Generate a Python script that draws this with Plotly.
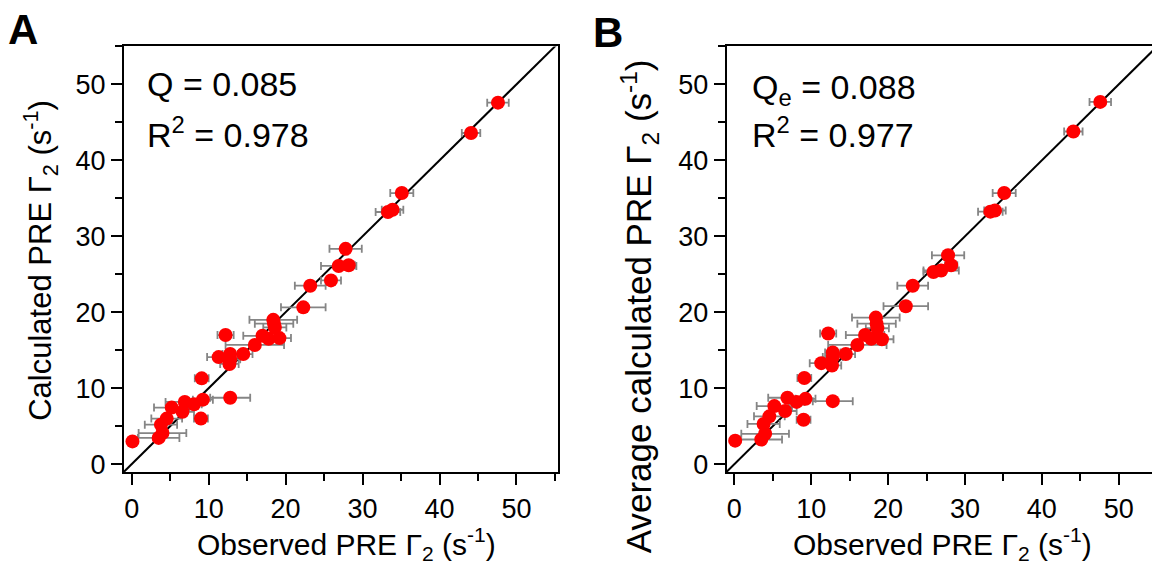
import plotly.graph_objects as go

# Observed PRE Gamma2 (s^-1) and its uncertainty
observed = [0.1, 3.5, 4.0, 3.8, 4.55, 5.2, 6.6, 6.9, 8.1, 9.25, 9.0, 12.8, 9.1, 11.3,
            12.7, 12.8, 12.8, 14.5, 12.2, 16.0, 17.0, 17.8, 18.4, 18.5, 18.6, 19.2,
            22.3, 23.2, 25.9, 26.9, 28.2, 27.8, 33.3, 33.9, 35.1, 44.1, 47.6]
observed_err = [0.5, 2.7, 3.1, 2.1, 2.0, 2.3, 1.5, 2.5, 1.0, 1.3, 0.9, 2.6, 0.9, 1.5,
                1.2, 1.3, 1.0, 1.2, 1.05, 3.8, 2.5, 1.5, 3.1, 2.5, 1.5, 1.5,
                2.9, 2.0, 1.3, 2.3, 0.8, 2.1, 1.6, 1.4, 1.5, 1.2, 1.4]
calc_A = [3.0, 3.46, 4.1, 5.2, 6.0, 7.45, 6.9, 8.2, 7.9, 8.5, 6.0, 8.75, 11.3, 14.1,
          13.2, 13.8, 14.5, 14.5, 17.0, 15.7, 16.9, 16.5, 19.0, 18.5, 18.0, 16.6,
          20.65, 23.5, 24.2, 26.1, 26.2, 28.35, 33.2, 33.5, 35.7, 43.6, 47.6]
calc_B = [3.1, 3.25, 4.0, 5.3, 6.3, 7.65, 7.0, 8.75, 8.2, 8.6, 5.85, 8.3, 11.35, 13.3,
          13.0, 14.1, 14.7, 14.5, 17.2, 15.7, 17.0, 16.5, 19.3, 18.5, 17.9, 16.45,
          20.8, 23.5, 25.3, 25.5, 26.2, 27.5, 33.25, 33.4, 35.7, 43.8, 47.7]
diag = [-1, 56]
tick_vals = [0, 10, 20, 30, 40, 50]
tick_text = ["0", "10", "20", "30", "40", "50"]

W, H = 1152, 573
FONT = "Liberation Sans, Arial, Helvetica, sans-serif"

def px(x):
    return x / W

def py(y):
    return 1 - y / H

fig = go.Figure()
for xa, ya, calc in (("x", "y", calc_A), ("x2", "y2", calc_B)):
    fig.add_trace(go.Scatter(x=diag, y=diag, mode="lines", xaxis=xa, yaxis=ya,
                             line=dict(color="black", width=2), hoverinfo="skip",
                             showlegend=False))
    fig.add_trace(go.Scatter(x=observed, y=calc, mode="markers", xaxis=xa, yaxis=ya,
                             marker=dict(color="#ff0000", size=14, line=dict(width=0)),
                             error_x=dict(type="data", array=observed_err, visible=True,
                                          color="#858585", thickness=1.8, width=4),
                             showlegend=False, cliponaxis=False))

axis_common = dict(showline=True, linecolor="black", linewidth=2, ticks="outside",
                   ticklen=11, tickwidth=1.5, tickcolor="black", showgrid=False,
                   zeroline=False, tickvals=tick_vals, ticktext=tick_text,
                   tickfont=dict(family=FONT, size=27, color="black"),
                   minor=dict(dtick=5, tick0=5, ticks="outside", ticklen=7,
                              tickwidth=1.5, tickcolor="black", showgrid=False))

fig.update_layout(
    width=W, height=H, margin=dict(l=0, r=0, t=0, b=0),
    paper_bgcolor="white", plot_bgcolor="white",
    font=dict(family=FONT, color="black"),
    xaxis=dict(domain=[px(124), px(558)], range=[-1.0, 55.4], anchor="y",
               mirror=True, **axis_common),
    yaxis=dict(domain=[py(478), py(47)], range=[-1.05, 55.0], anchor="x",
               mirror=True, **axis_common),
    xaxis2=dict(domain=[px(726.7), 1.0], range=[-1.0, 54.33], anchor="y2",
                mirror=True, **axis_common),
    yaxis2=dict(domain=[py(478), py(47)], range=[-1.05, 55.0], anchor="x2",
                mirror=False, **axis_common),
)

ann = []
def add(text, x, y, size, xanchor="left", yanchor="middle", angle=0, bold=False):
    ann.append(dict(text=("<b>%s</b>" % text) if bold else text, x=px(x), y=py(y),
                    xref="paper", yref="paper", showarrow=False, xanchor=xanchor,
                    yanchor=yanchor, textangle=angle,
                    font=dict(family=FONT, size=size, color="black")))

add("A", 6, 30, 42, bold=True)
add("B", 591, 33, 42, bold=True)
add("Q = 0.085", 145, 85, 34)
add("R<sup>2</sup> = 0.978", 145, 134, 34)
add("Q<sub>e</sub> = 0.088", 750, 91, 34)
add("R<sup>2</sup> = 0.977", 750, 134, 34)
add("Observed PRE Γ<sub>2</sub> (s<sup>-1</sup>)", 346, 551, 30, xanchor="center")
add("Observed PRE Γ<sub>2</sub> (s<sup>-1</sup>)", 942, 551, 30, xanchor="center")
add("Calculated PRE Γ<sub>2</sub> (s<sup>-1</sup>)", 41, 264, 31, xanchor="center", angle=-90)
add("Average calculated PRE Γ<sub>2</sub> (s<sup>-1</sup>)", 639, 310, 35, xanchor="center", angle=-90)
fig.update_layout(annotations=ann)

fig.write_html("out.html")
